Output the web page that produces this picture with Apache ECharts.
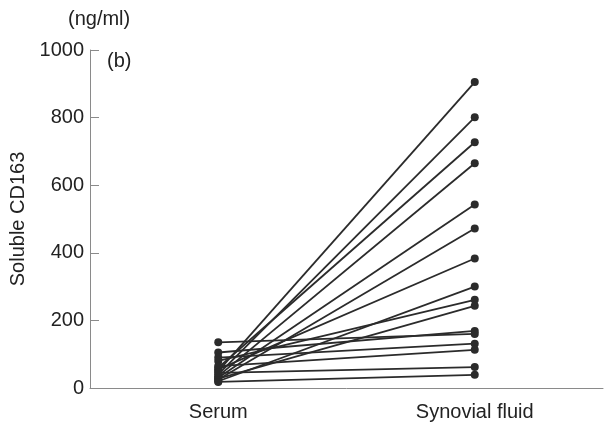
<!DOCTYPE html>
<html>
<head>
<meta charset="utf-8">
<script src="https://cdn.jsdelivr.net/npm/echarts@6/dist/echarts.min.js"></script>
<style>
  html, body { margin: 0; padding: 0; background: #fff; }
  #chart { width: 608px; height: 432px; }
</style>
</head>
<body>
<div id="chart"></div>
<script>
// paired samples: serum vs synovial fluid (ng/ml)
const categories = ["Serum", "Synovial fluid"];
const serum = [50, 40, 60, 35, 30, 25, 55, 20, 80, 28, 105, 135, 90, 65, 45, 18];
const synovial = [905, 801, 727, 665, 543, 472, 383, 300, 261, 243, 169, 160, 131, 113, 62, 39];
const yTicks = [0, 200, 400, 600, 800, 1000];

const font = "'Liberation Sans', Arial, sans-serif";
const chart = echarts.init(document.getElementById("chart"), null, { renderer: "canvas" });

const series = serum.map((s, i) => ({
  type: "line",
  data: [s, synovial[i]],
  symbol: "circle",
  symbolSize: 8,
  lineStyle: { color: "#2b2b2b", width: 1.8 },
  itemStyle: { color: "#2b2b2b" },
  animation: false
}));

chart.setOption({
  animation: false,
  grid: { left: 90, right: 5, top: 50, bottom: 44, outerBoundsMode: "none" },
  xAxis: {
    type: "category",
    data: categories,
    boundaryGap: true,
    axisLine: { lineStyle: { color: "#8a8a8a", width: 1 } },
    axisTick: { inside: true, length: 9, lineStyle: { color: "#8a8a8a" } },
    axisLabel: { color: "#222", fontSize: 20, fontFamily: font, margin: 14 }
  },
  yAxis: {
    type: "value",
    min: yTicks[0],
    max: yTicks[yTicks.length - 1],
    interval: 200,
    name: "Soluble CD163",
    nameLocation: "middle",
    nameGap: 62,
    nameTextStyle: { color: "#222", fontSize: 20, fontFamily: font },
    axisLine: { show: true, lineStyle: { color: "#8a8a8a", width: 1 } },
    axisTick: { show: true, inside: true, length: 9, lineStyle: { color: "#8a8a8a" } },
    axisLabel: { color: "#222", fontSize: 20, fontFamily: font, margin: 6, formatter: v => String(v) },
    splitLine: { show: false }
  },
  graphic: [
    { type: "text", left: 68, top: 9, style: { text: "(ng/ml)", fill: "#222", font: "20px " + font } },
    { type: "text", left: 107, top: 51, style: { text: "(b)", fill: "#222", font: "20px " + font } }
  ],
  series: series
});
</script>
</body>
</html>
